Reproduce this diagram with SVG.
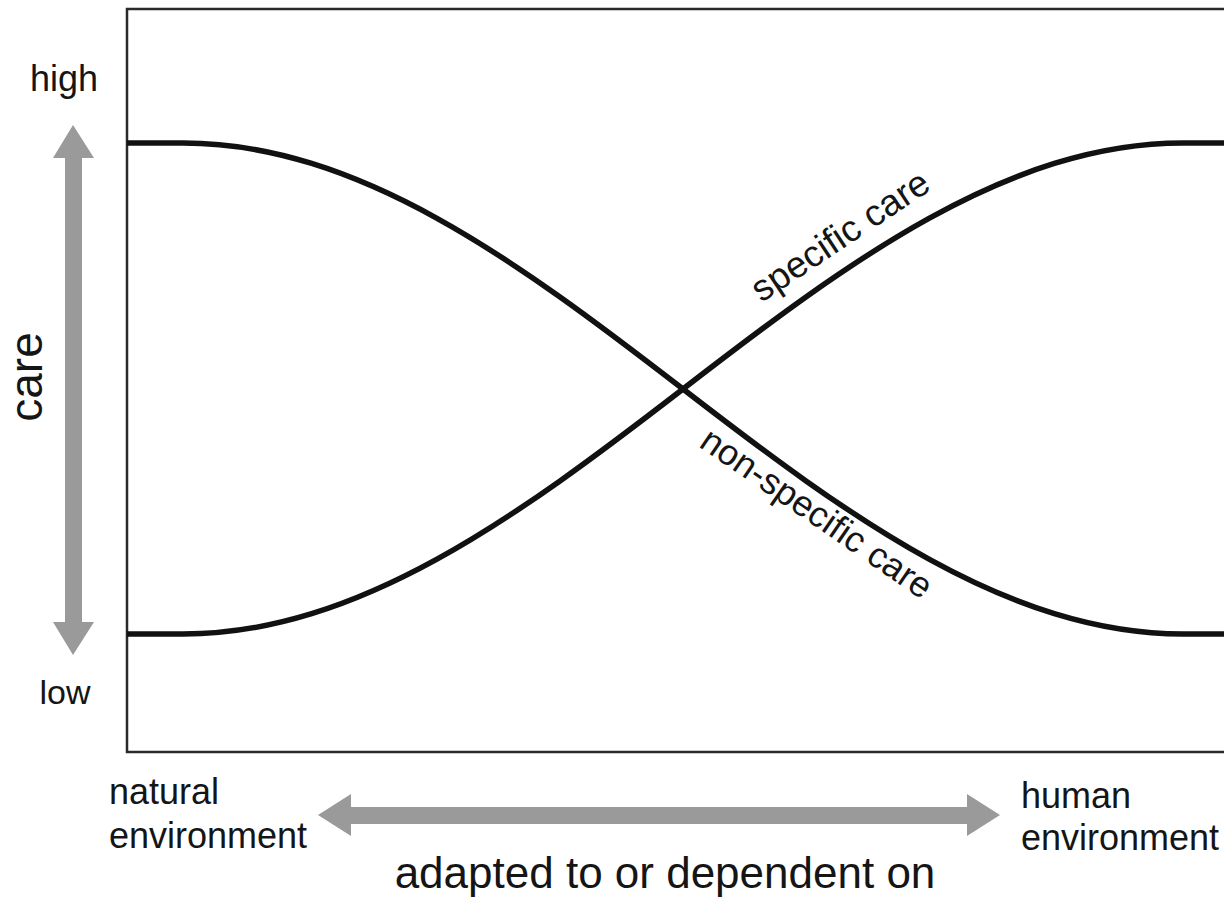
<svg xmlns="http://www.w3.org/2000/svg" width="1224" height="899" viewBox="0 0 1224 899">
  <style>
    .lbl { font-family: "Liberation Sans", Arial, Helvetica, sans-serif; fill: #151515; }
    .curve { fill: none; stroke: #111; stroke-width: 5.5; stroke-linecap: butt; }
    .frame { fill: none; stroke: #2a2a2a; stroke-width: 2.5; }
    .arrow { fill: #9a9a9a; }
  </style>
  <rect width="1224" height="899" fill="#fff"/>

  <g id="frame">
    <rect class="frame" x="127" y="9" width="1120" height="743"/>
  </g>

  <g id="connectors">
    <path id="non-specific-curve" class="curve" d="M127,143 H183 C358,143 517.5,261.3 683,389 C848.5,516.7 1008,634 1183,634 H1230"/>
    <path id="specific-curve" class="curve" d="M127,634 H183 C358,634 517.5,516.7 683,389 C848.5,261.3 1008,143 1183,143 H1230"/>
  </g>

  <g id="care-arrow">
    <rect class="arrow" x="65" y="155" width="17" height="469"/>
    <polygon class="arrow" points="73,125 94,158 53,158"/>
    <polygon class="arrow" points="73,655 94,622 53,622"/>
  </g>

  <g id="env-arrow">
    <rect class="arrow" x="348" y="807" width="622" height="17"/>
    <polygon class="arrow" points="318,815 351,794 351,836"/>
    <polygon class="arrow" points="1000,815 967,794 967,836"/>
  </g>

  <g id="labels">
    <text class="lbl" x="64" y="91" font-size="36" text-anchor="middle">high</text>
    <text class="lbl" x="65" y="704" font-size="34" text-anchor="middle">low</text>
    <text class="lbl" x="42" y="377" font-size="46" text-anchor="middle" transform="rotate(-90 42 377)">care</text>
    <text class="lbl" x="109" y="804" font-size="36">natural</text>
    <text class="lbl" x="109" y="848" font-size="36">environment</text>
    <text class="lbl" x="1021" y="808" font-size="36">human</text>
    <text class="lbl" x="1021" y="850" font-size="36">environment</text>
    <text class="lbl" x="665" y="888" font-size="44" text-anchor="middle">adapted to or dependent on</text>
    <text class="lbl" x="847" y="246" font-size="37" text-anchor="middle" transform="rotate(-33.6 847 246)">specific care</text>
    <text class="lbl" x="810" y="523" font-size="36" text-anchor="middle" transform="rotate(34.5 810 523)">non-specific care</text>
  </g>
</svg>
